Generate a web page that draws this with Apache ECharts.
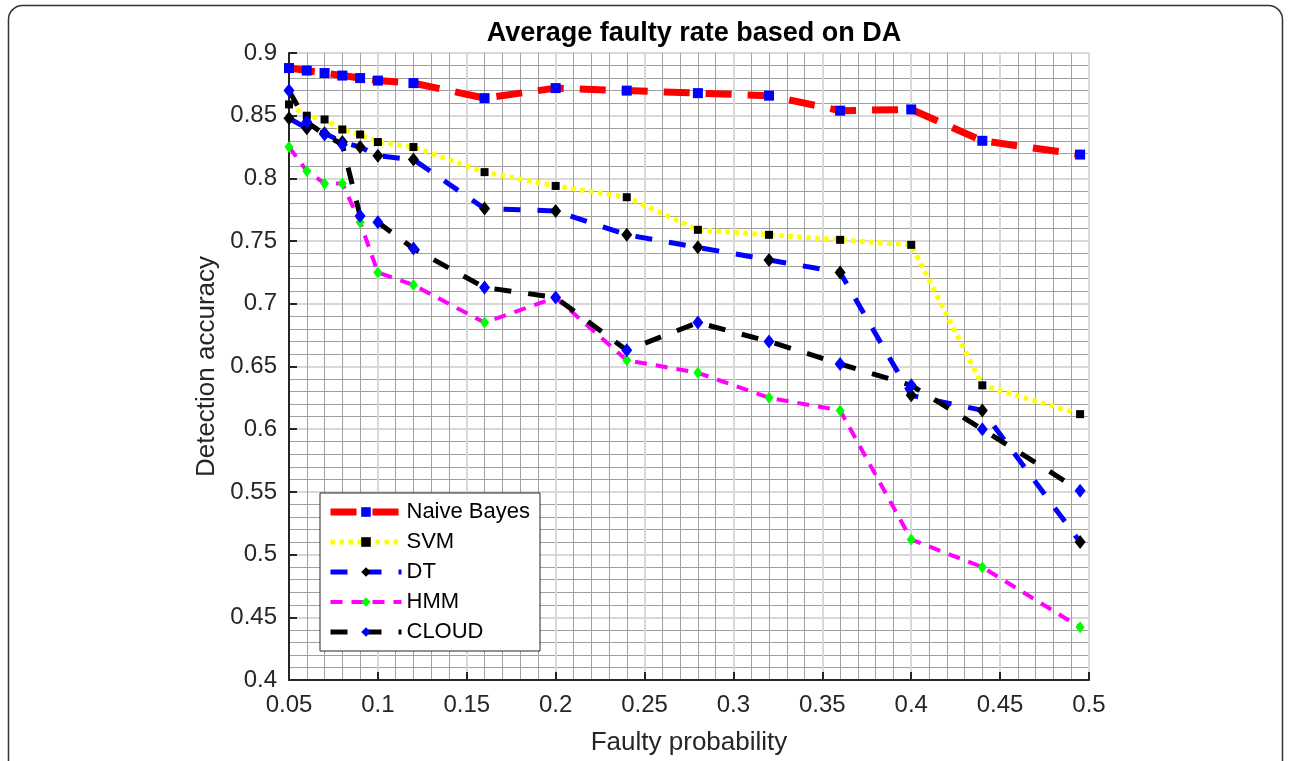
<!DOCTYPE html>
<html>
<head>
<meta charset="utf-8">
<script src="https://cdn.jsdelivr.net/npm/echarts@6/dist/echarts.min.js"></script>
<style>
html,body{margin:0;padding:0;background:#fff;}
#chart{width:1291px;height:761px;}
</style>
</head>
<body>
<div id="chart"></div>
<script>
// ---- data ----
var faultyProbability = [0.05, 0.06, 0.07, 0.08, 0.09, 0.1, 0.12, 0.16, 0.2, 0.24, 0.28, 0.32, 0.36, 0.4, 0.44, 0.495];
var naiveBayes = [0.888, 0.886, 0.884, 0.882, 0.880, 0.878, 0.876, 0.864, 0.872, 0.870, 0.868, 0.866, 0.854, 0.855, 0.830, 0.819];
var svm        = [0.859, 0.850, 0.847, 0.839, 0.835, 0.829, 0.825, 0.805, 0.794, 0.785, 0.759, 0.755, 0.751, 0.747, 0.635, 0.612];
var dt         = [0.848, 0.840, 0.836, 0.829, 0.825, 0.818, 0.815, 0.776, 0.774, 0.755, 0.745, 0.735, 0.725, 0.627, 0.615, 0.510];
var hmm        = [0.825, 0.806, 0.796, 0.796, 0.765, 0.725, 0.715, 0.685, 0.705, 0.655, 0.645, 0.625, 0.615, 0.512, 0.490, 0.442];
var cloud      = [0.870, 0.845, 0.835, 0.827, 0.770, 0.765, 0.744, 0.713, 0.705, 0.663, 0.685, 0.670, 0.652, 0.635, 0.600, 0.551];
var seriesNames = ['Naive Bayes', 'SVM', 'DT', 'HMM', 'CLOUD'];
var titleText = 'Average faulty rate based on DA';
var xAxisName = 'Faulty probability';
var yAxisName = 'Detection accuracy';

function pairs(ys) {
  return ys.map(function (y, i) { return [faultyProbability[i], y]; });
}
function fmt(v) { return String(parseFloat(v.toFixed(2))); }

var FONT = '"Liberation Sans", Arial, sans-serif';
var TXT = '#262626';

var chart = echarts.init(document.getElementById('chart'));
chart.setOption({
  animation: false,
  backgroundColor: '#fff',
  graphic: [{
    type: 'rect',
    shape: { x: 8.5, y: 5.5, width: 1274, height: 820, r: 14 },
    style: { fill: 'none', stroke: '#333', lineWidth: 1.5 },
    silent: true, z: -10
  }],
  title: {
    text: titleText,
    left: 689, top: 15, textAlign: 'center',
    textStyle: { fontFamily: FONT, fontSize: 27, fontWeight: 'bold', color: '#000' }
  },
  grid: { left: 289, right: 202, top: 53, bottom: 79, containLabel: false },
  legend: {
    orient: 'vertical',
    left: 320, top: 493,
    padding: [8, 10, 8, 7],
    itemGap: 8,
    itemWidth: 71, itemHeight: 12,
    backgroundColor: '#fff',
    borderColor: '#262626', borderWidth: 1,
    lineStyle: { width: 'inherit', type: 'inherit' },
    textStyle: { fontFamily: FONT, fontSize: 22, color: '#000' },
    data: seriesNames
  },
  xAxis: {
    type: 'value',
    min: 0.05, max: 0.5, interval: 0.05,
    name: xAxisName, nameLocation: 'middle', nameGap: 50,
    nameTextStyle: { fontFamily: FONT, fontSize: 26, color: TXT },
    axisLine: { show: true, onZero: false, lineStyle: { color: '#262626', width: 2 } },
    axisTick: { show: true, inside: true, length: 8, lineStyle: { color: '#262626', width: 2 } },
    axisLabel: { fontFamily: FONT, fontSize: 24, color: TXT, margin: 13, formatter: fmt },
    splitLine: { show: true, lineStyle: { color: '#d8d8d8', width: 2 } },
    minorTick: { show: false, splitNumber: 5 },
    minorSplitLine: { show: true, lineStyle: { color: '#a0a0a0', width: 1 } }
  },
  yAxis: {
    type: 'value',
    min: 0.4, max: 0.9, interval: 0.05,
    name: yAxisName, nameLocation: 'middle', nameGap: 68,
    nameTextStyle: { fontFamily: FONT, fontSize: 26, color: TXT },
    axisLine: { show: true, onZero: false, lineStyle: { color: '#262626', width: 2 } },
    axisTick: { show: true, inside: true, length: 8, lineStyle: { color: '#262626', width: 2 } },
    axisLabel: { fontFamily: FONT, fontSize: 24, color: TXT, margin: 12, formatter: fmt },
    splitLine: { show: true, lineStyle: { color: '#d8d8d8', width: 2 } },
    minorTick: { show: false, splitNumber: 5 },
    minorSplitLine: { show: true, lineStyle: { color: '#a0a0a0', width: 1 } }
  },
  series: [
    {
      name: seriesNames[0], type: 'line', data: pairs(naiveBayes),
      symbol: 'rect', symbolSize: 10,
      itemStyle: { color: '#0000ff' },
      lineStyle: { color: '#ff0000', width: 7, type: [26, 16] }
    },
    {
      name: seriesNames[1], type: 'line', data: pairs(svm),
      symbol: 'rect', symbolSize: 8,
      itemStyle: { color: '#000000' },
      lineStyle: { color: '#ffff00', width: 5, type: [4.5, 4.5] }
    },
    {
      name: seriesNames[2], type: 'line', data: pairs(dt),
      symbol: 'diamond', symbolSize: [11, 14],
      itemStyle: { color: '#000000' },
      lineStyle: { color: '#0000ff', width: 5, type: [17, 17] }
    },
    {
      name: seriesNames[3], type: 'line', data: pairs(hmm),
      symbol: 'diamond', symbolSize: [9, 12],
      itemStyle: { color: '#00ff00' },
      lineStyle: { color: '#ff00ff', width: 4, type: [12, 9] }
    },
    {
      name: seriesNames[4], type: 'line', data: pairs(cloud),
      symbol: 'diamond', symbolSize: [11, 14],
      itemStyle: { color: '#0000ff' },
      lineStyle: { color: '#000000', width: 5, type: [17, 17] }
    }
  ]
});
</script>
</body>
</html>
